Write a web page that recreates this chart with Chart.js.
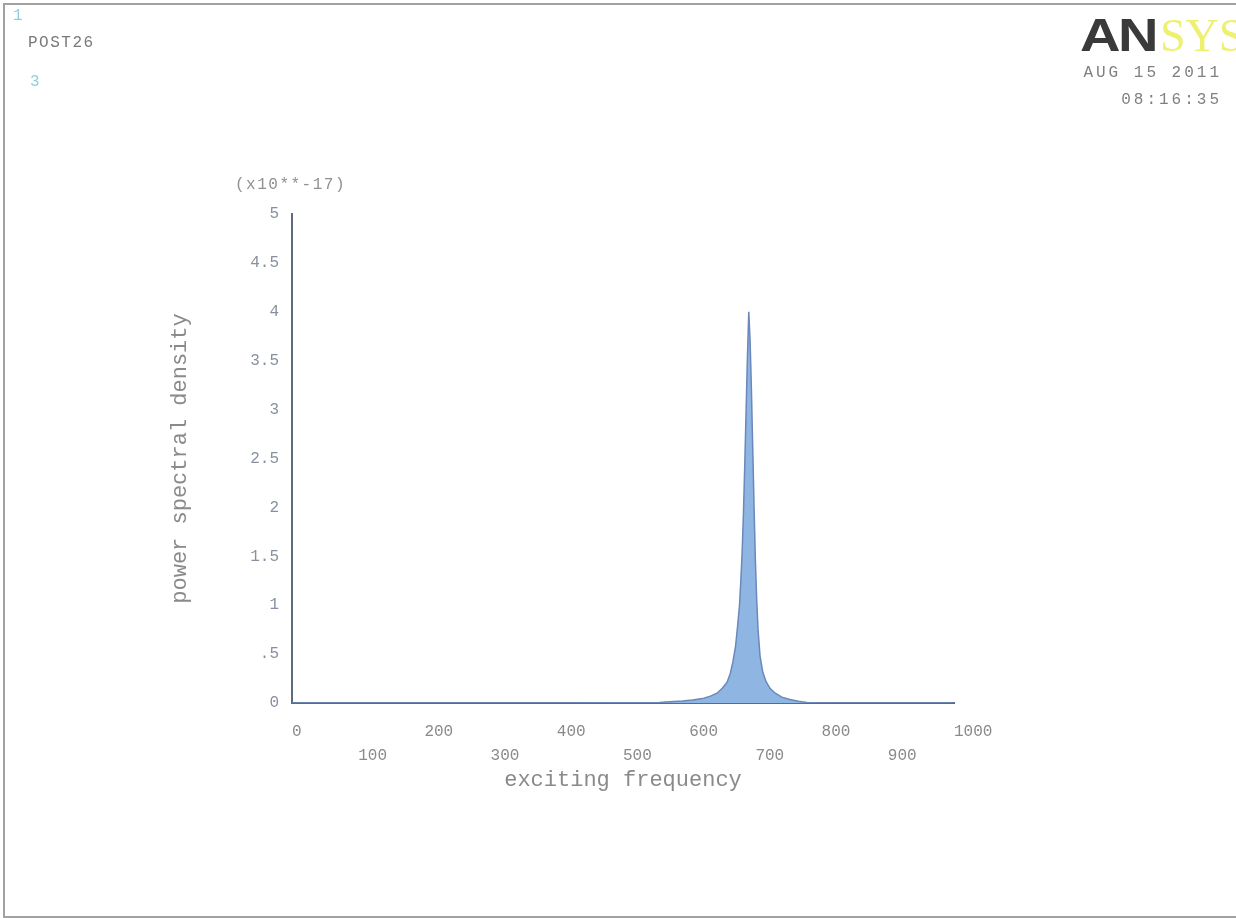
<!DOCTYPE html>
<html lang="en">
<head>
<meta charset="UTF-8">
<title>POST26 - power spectral density</title>
<script src="https://cdn.jsdelivr.net/npm/chart.js"></script>
<style>
    body {
        margin: 0;
        background: #ffffff;
        width: 1236px;
        height: 918px;
        overflow: hidden;
        position: relative;
    }
    #psdChart {
        position: absolute;
        left: 0;
        top: 0;
    }
    .frame {
        position: absolute;
        left: 3px;
        top: 3px;
        width: 1250px;
        height: 911px;
        border: 2px solid #a2a2a2;
    }
    .txt {
        position: absolute;
        font-family: "Liberation Mono", "DejaVu Sans Mono", monospace;
        white-space: nowrap;
        line-height: 1;
    }
    .logo {
        position: absolute;
        left: 1080px;
        top: 12px;
        white-space: nowrap;
        line-height: 1;
    }
    .logo .an {
        display: inline-block;
        font-family: "Liberation Sans", Arial, sans-serif;
        font-weight: bold;
        font-size: 46px;
        color: #3a3a3a;
        letter-spacing: -2px;
        transform: scaleX(1.22);
        transform-origin: left center;
        width: 80px;
    }
    .logo .sys {
        font-family: "Liberation Serif", serif;
        font-size: 46px;
        color: #eef070;
    }
</style>
</head>
<body>
<div class="frame"></div>
<canvas id="psdChart" width="1236" height="918"></canvas>

<!-- ANSYS plot annotations -->
<div class="txt" style="left:13px; top:8px; font-size:16px; color:#8fd0e0;">1</div>
<div class="txt" style="left:28px; top:35px; font-size:16px; letter-spacing:1.5px; color:#7a7a7a;">POST26</div>
<div class="txt" style="left:30px; top:74px; font-size:16px; color:#8fd0e0;">3</div>
<div class="logo"><span class="an">AN</span><span class="sys">SYS</span></div>
<div class="txt" style="right:14px; top:65px; font-size:16px; letter-spacing:3px; color:#808080;">AUG 15 2011</div>
<div class="txt" style="right:14px; top:92px; font-size:16px; letter-spacing:3px; color:#808080;">08:16:35</div>
<div class="txt" style="left:235px; top:177px; font-size:16px; letter-spacing:1.5px; color:#909090;">(x10**-17)</div>

<script>
    // exciting frequency (Hz) and power spectral density (x10**-17)
    const frequency = [0, 100, 200, 300, 400, 500, 555, 570, 590, 605, 620, 632, 642, 650, 657, 662, 666, 670, 673, 676,
                       678, 680, 682, 684, 686, 688, 690, 692, 694, 696, 698, 700, 702, 704, 707, 711, 716, 722, 730, 740,
                       752, 765, 778, 790, 850, 900, 1000];
    const psd = [0, 0, 0, 0, 0, 0.002, 0.006, 0.012, 0.02, 0.03, 0.045, 0.07, 0.1, 0.15, 0.21, 0.3, 0.42, 0.58, 0.78, 1.0,
                 1.25, 1.55, 1.95, 2.45, 3.0, 3.55, 4.0, 3.7, 3.2, 2.6, 2.0, 1.45, 1.05, 0.75, 0.48, 0.32, 0.22, 0.15, 0.1, 0.06,
                 0.035, 0.018, 0.006, 0.002, 0, 0, 0];
    const yTicks = [0, 0.5, 1, 1.5, 2, 2.5, 3, 3.5, 4, 4.5, 5];
    const yTickLabels = ['0', '.5', '1', '1.5', '2', '2.5', '3', '3.5', '4', '4.5', '5'];

    const points = frequency.map((f, i) => ({ x: f, y: psd[i] }));
    const monoFont = "'Liberation Mono', 'DejaVu Sans Mono', monospace";

    const ctx = document.getElementById('psdChart').getContext('2d');
    new Chart(ctx, {
        type: 'line',
        data: {
            datasets: [{
                label: 'power spectral density',
                data: points,
                borderColor: '#6a88ba',
                backgroundColor: '#8fb6e3',
                borderWidth: 1.5,
                pointRadius: 0,
                tension: 0,
                fill: 'origin'
            }]
        },
        options: {
            responsive: false,
            animation: false,
            layout: {
                padding: { left: 163, top: 214, right: 282, bottom: 121 }
            },
            plugins: {
                legend: { display: false },
                tooltip: { enabled: false }
            },
            scales: {
                x: {
                    type: 'linear',
                    min: 0,
                    max: 1000,
                    grid: { display: false },
                    border: { display: true, color: '#5f6a80', width: 2 },
                    ticks: {
                        stepSize: 100,
                        align: 'start',
                        padding: 9,
                        maxRotation: 0,
                        autoSkip: false,
                        color: '#8a8a8a',
                        font: { family: monoFont, size: 16, lineHeight: 1.5 },
                        // odd hundreds go on a second row, like the ANSYS plot
                        callback: (v) => (v / 100) % 2 === 1 ? ['', String(v)] : [String(v)]
                    },
                    title: {
                        display: true,
                        text: 'exciting frequency',
                        color: '#8a8a8a',
                        padding: { top: 0, bottom: 4 },
                        font: { family: monoFont, size: 22 }
                    },
                    afterFit: (scale) => { scale.height = 94; }
                },
                y: {
                    min: 0,
                    max: 5,
                    grid: { display: false },
                    border: { display: true, color: '#5f6a80', width: 2 },
                    afterBuildTicks: (scale) => { scale.ticks = yTicks.map(v => ({ value: v })); },
                    ticks: {
                        padding: 5,
                        color: '#8890a0',
                        font: { family: monoFont, size: 16 },
                        callback: (v) => yTickLabels[yTicks.indexOf(v)]
                    },
                    title: {
                        display: true,
                        text: 'power spectral density',
                        color: '#8a8a8a',
                        padding: { top: 4, bottom: 4 },
                        font: { family: monoFont, size: 22 }
                    },
                    afterFit: (scale) => { scale.width = 129; }
                }
            }
        }
    });
</script>
</body>
</html>
